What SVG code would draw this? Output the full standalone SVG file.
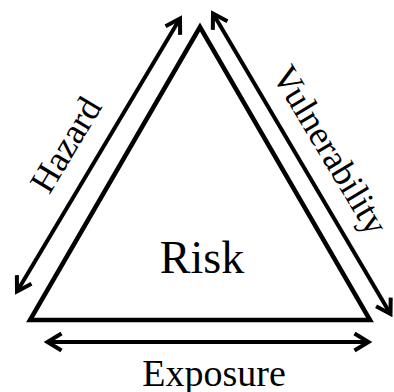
<svg xmlns="http://www.w3.org/2000/svg" width="394" height="392" viewBox="0 0 394 392">
<style>
.lbl{font-family:'Liberation Serif','Times New Roman','DejaVu Serif',serif;fill:#000;text-anchor:middle}
.arr{fill:none;stroke:#000;stroke-width:4;marker-start:url(#ah);marker-end:url(#ah)}
</style>
<defs>
<marker id="ah" viewBox="-18 -12 22 24" refX="0" refY="0" markerWidth="22" markerHeight="24" markerUnits="userSpaceOnUse" orient="auto-start-reverse">
<path d="M-14,-8.5 L0,0 L-14,8.5" fill="none" stroke="#000" stroke-width="4" stroke-linejoin="miter"/>
</marker>
</defs>
<rect width="394" height="392" fill="#fff"/>
<g id="risk">
<polygon points="200,27 30,320 370,320" fill="none" stroke="#000" stroke-width="4.5" stroke-linejoin="miter"/>
<text class="lbl" x="202" y="273" font-size="46">Risk</text>
</g>
<g id="connectors">
<line class="arr" x1="17" y1="291.5" x2="180" y2="18.5"/>
<line class="arr" x1="213" y1="13.5" x2="390.5" y2="314"/>
<line class="arr" x1="47.5" y1="342" x2="368.5" y2="342"/>
</g>
<g id="hazard">
<text class="lbl" font-size="36" transform="translate(76,151) rotate(-59)">Hazard</text>
</g>
<g id="vulnerability">
<text class="lbl" font-size="36" transform="translate(320,156) rotate(59)">Vulnerability</text>
</g>
<g id="exposure">
<text class="lbl" x="214" y="386" font-size="38">Exposure</text>
</g>
</svg>
